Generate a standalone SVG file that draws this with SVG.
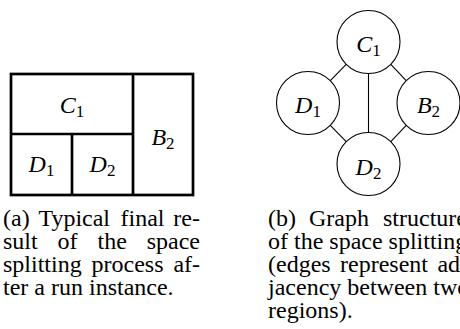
<svg xmlns="http://www.w3.org/2000/svg" width="460" height="329" viewBox="0 0 460 329">
<style>
  .box { fill: none; stroke: #000; stroke-width: 2.7; }
  .div { stroke: #000; stroke-width: 2.7; fill: none; }
  .node { fill: #fff; stroke: #000; stroke-width: 1.1; }
  .edge { stroke: #000; stroke-width: 1.1; fill: none; }
  .math { font-family: "Liberation Serif", "Times New Roman", serif; font-size: 24px; text-anchor: middle; fill: #000; }
  .it { font-style: italic; }
  .sub { font-size: 17px; font-style: normal; }
  .cap { font-family: "Liberation Serif", "Times New Roman", serif; font-size: 24px; fill: #000; }
</style>
<rect width="460" height="329" fill="#fff"/>

<g id="partition">
  <g id="region-outline">
    <rect class="box" x="11" y="74" width="182" height="121"/>
    <line class="div" x1="133" y1="74" x2="133" y2="195"/>
    <line class="div" x1="11" y1="134" x2="133" y2="134"/>
    <line class="div" x1="72" y1="134" x2="72" y2="195"/>
  </g>
  <g id="region-C1"><text class="math" x="72" y="113"><tspan class="it">C</tspan><tspan class="sub" dy="4">1</tspan></text></g>
  <g id="region-B2"><text class="math" x="163" y="145"><tspan class="it">B</tspan><tspan class="sub" dy="4">2</tspan></text></g>
  <g id="region-D1"><text class="math" x="41.5" y="172"><tspan class="it">D</tspan><tspan class="sub" dy="4">1</tspan></text></g>
  <g id="region-D2"><text class="math" x="102.5" y="172"><tspan class="it">D</tspan><tspan class="sub" dy="4">2</tspan></text></g>
</g>

<g id="connectors">
  <line class="edge" x1="346.2" y1="64.3" x2="330.3" y2="80.7"/>
  <line class="edge" x1="390.8" y1="64.3" x2="406.2" y2="80.7"/>
  <line class="edge" x1="368.5" y1="73.5" x2="368.5" y2="132.5"/>
  <line class="edge" x1="330.3" y1="125.3" x2="346.2" y2="141.7"/>
  <line class="edge" x1="406.2" y1="125.3" x2="390.8" y2="141.7"/>
</g>

<g id="node-C1">
  <circle class="node" cx="368.5" cy="42" r="31.5"/>
  <text class="math" x="368.5" y="52"><tspan class="it">C</tspan><tspan class="sub" dy="4">1</tspan></text>
</g>
<g id="node-D1">
  <circle class="node" cx="308" cy="103" r="31.5"/>
  <text class="math" x="308" y="113"><tspan class="it">D</tspan><tspan class="sub" dy="4">1</tspan></text>
</g>
<g id="node-B2">
  <circle class="node" cx="428.5" cy="103" r="31.5"/>
  <text class="math" x="428.5" y="113"><tspan class="it">B</tspan><tspan class="sub" dy="4">2</tspan></text>
</g>
<g id="node-D2">
  <circle class="node" cx="368.5" cy="164" r="31.5"/>
  <text class="math" x="368.5" y="175"><tspan class="it">D</tspan><tspan class="sub" dy="4">2</tspan></text>
</g>

<g id="caption-a">
  <text class="cap" x="3" y="226">(a)</text>
  <text class="cap" x="38.4" y="226">Typical</text>
  <text class="cap" x="120.5" y="226">final</text>
  <text class="cap" x="173.3" y="226">re-</text>
  <text class="cap" x="3" y="249">sult</text>
  <text class="cap" x="57.6" y="249">of</text>
  <text class="cap" x="97.5" y="249">the</text>
  <text class="cap" x="146.7" y="249">space</text>
  <text class="cap" x="3" y="272">splitting</text>
  <text class="cap" x="91.5" y="272">process</text>
  <text class="cap" x="173.4" y="272">af-</text>
  <text class="cap" x="3" y="295">ter a run instance.</text>
</g>

<g id="caption-b">
  <text class="cap" x="268" y="226">(b)</text>
  <text class="cap" x="309" y="226">Graph</text>
  <text class="cap" x="383" y="226">structure</text>
  <text class="cap" x="268" y="249">of the space splitting</text>
  <text class="cap" x="268" y="272">(edges</text>
  <text class="cap" x="340" y="272">represent</text>
  <text class="cap" x="437.4" y="272">ad-</text>
  <text class="cap" x="268" y="295">jacency between two</text>
  <text class="cap" x="268" y="318">regions).</text>
</g>
</svg>
